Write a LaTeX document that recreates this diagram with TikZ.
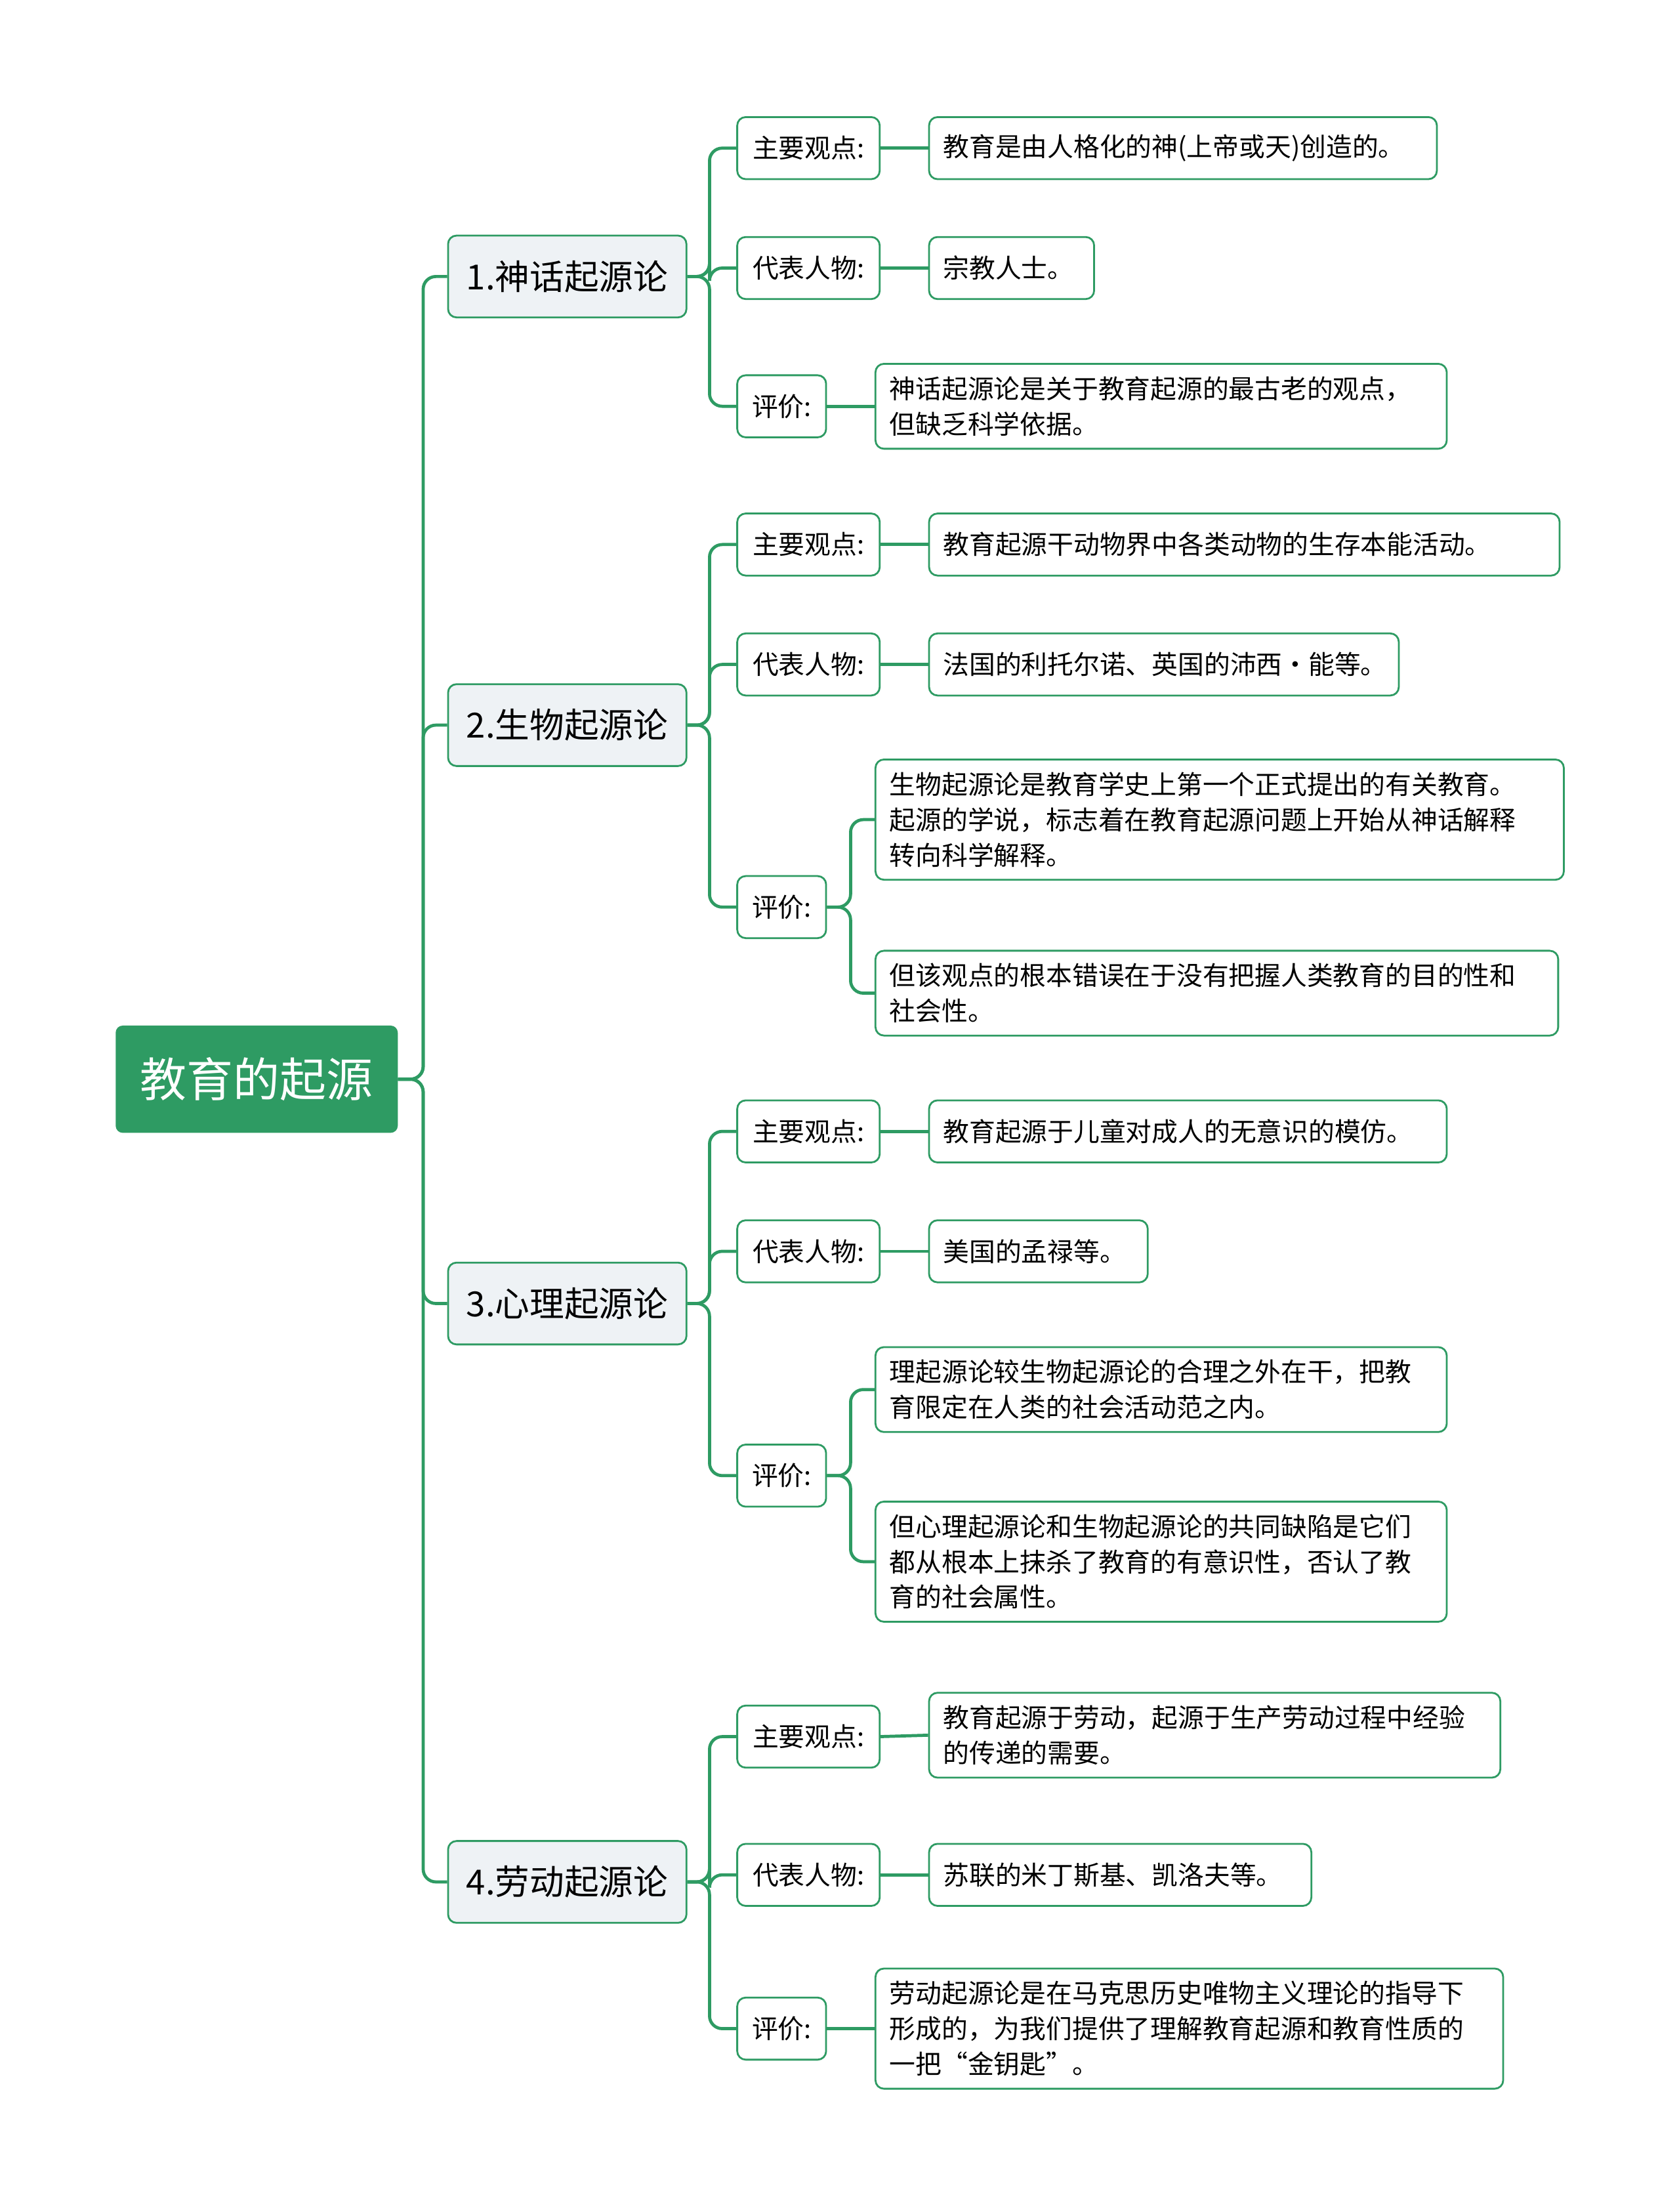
\documentclass[tikz,border=0pt]{standalone}
\usepackage{fontspec}
\setmainfont{Noto Sans CJK SC}
\definecolor{g}{HTML}{2E9B63}
\definecolor{bf}{HTML}{EEF2F5}
\begin{document}
\begin{tikzpicture}[x=1pt,y=-1pt,
 conn/.style={draw=g,line width=2.2pt,rounded corners=9pt},
 rootn/.style={fill=g,rounded corners=5pt,text=white,font=\fontsize{33}{36}\selectfont,minimum width=200pt,minimum height=76pt,inner sep=0pt},
 br/.style={draw=g,fill=bf,line width=1.3pt,rounded corners=6pt,font=\fontsize{24.5}{27}\selectfont,minimum width=169pt,minimum height=58pt,inner sep=0pt,anchor=west},
 lab/.style={draw=g,fill=white,line width=1.3pt,rounded corners=6pt,font=\fontsize{18.5}{21}\selectfont,minimum height=44pt,inner sep=0pt,anchor=west},
 leaf/.style={draw=g,fill=white,line width=1.3pt,rounded corners=6pt,font=\fontsize{18.5}{25}\selectfont,minimum height=44pt,inner xsep=10pt,inner ysep=9pt,anchor=west,align=left}]
\useasboundingbox (0,0) rectangle (1190,1568);
\fill[white] (0,0) rectangle (1190,1568);

\node[rootn] (root) at (182,765) {教育的起源};
\node[br] (b1) at (317,196) {1.神话起源论};
\node[br] (b2) at (317,514) {2.生物起源论};
\node[br] (b3) at (317,924) {3.心理起源论};
\node[br] (b4) at (317,1334) {4.劳动起源论};
\foreach \b in {b1,b2,b3,b4} \draw[conn] (root.east) -- (300,765) |- (\b.west);

% branch 1
\node[lab,minimum width=101pt] (a1) at (522,105) {主要观点:};
\node[lab,minimum width=101pt] (a2) at (522,190) {代表人物:};
\node[lab,minimum width=63pt] (a3) at (522,288) {评价:};
\node[leaf,text width=340pt] (l11) at (658,105) {教育是由人格化的神(上帝或天)创造的。};
\node[leaf,text width=97pt] (l12) at (658,190) {宗教人士。};
\node[leaf,text width=385pt] (l13) at (620,288) {神话起源论是关于教育起源的最古老的观点，\\但缺乏科学依据。};
\foreach \a in {a1,a2,a3} \draw[conn] (b1.east) -- (503,196) |- (\a.west);
\draw[conn] (a1.east) -- (l11.west); \draw[conn] (a2.east) -- (l12.west); \draw[conn] (a3.east) -- (l13.west);

% branch 2
\node[lab,minimum width=101pt] (c1) at (522,386) {主要观点:};
\node[lab,minimum width=101pt] (c2) at (522,471) {代表人物:};
\node[lab,minimum width=63pt] (c3) at (522,643) {评价:};
\node[leaf,text width=427pt] (l21) at (658,386) {教育起源干动物界中各类动物的生存本能活动。};
\node[leaf,text width=313pt] (l22) at (658,471) {法国的利托尔诺、英国的沛西·能等。};
\node[leaf,text width=468pt] (l23) at (620,581) {生物起源论是教育学史上第一个正式提出的有关教育。\\起源的学说，标志着在教育起源问题上开始从神话解释\\转向科学解释。};
\node[leaf,text width=464pt] (l24) at (620,704) {但该观点的根本错误在于没有把握人类教育的目的性和\\社会性。};
\foreach \a in {c1,c2,c3} \draw[conn] (b2.east) -- (503,514) |- (\a.west);
\draw[conn] (c1.east) -- (l21.west); \draw[conn] (c2.east) -- (l22.west);
\foreach \l in {l23,l24} \draw[conn] (c3.east) -- (603,643) |- (\l.west);

% branch 3
\node[lab,minimum width=101pt] (d1) at (522,802) {主要观点:};
\node[lab,minimum width=101pt] (d2) at (522,887) {代表人物:};
\node[lab,minimum width=63pt] (d3) at (522,1046) {评价:};
\node[leaf,text width=347pt] (l31) at (658,802) {教育起源于儿童对成人的无意识的模仿。};
\node[leaf,text width=135pt] (l32) at (658,887) {美国的孟禄等。};
\node[leaf,text width=385pt] (l33) at (620,985) {理起源论较生物起源论的合理之外在干，把教\\育限定在人类的社会活动范之内。};
\node[leaf,text width=385pt] (l34) at (620,1107) {但心理起源论和生物起源论的共同缺陷是它们\\都从根本上抹杀了教育的有意识性，否认了教\\育的社会属性。};
\foreach \a in {d1,d2,d3} \draw[conn] (b3.east) -- (503,924) |- (\a.west);
\draw[conn] (d1.east) -- (l31.west); \draw[conn] (d2.east) -- (l32.west);
\foreach \l in {l33,l34} \draw[conn] (d3.east) -- (603,1046) |- (\l.west);

% branch 4
\node[lab,minimum width=101pt] (e1) at (522,1231) {主要观点:};
\node[lab,minimum width=101pt] (e2) at (522,1329) {代表人物:};
\node[lab,minimum width=63pt] (e3) at (522,1438) {评价:};
\node[leaf,text width=385pt] (l41) at (658,1230) {教育起源于劳动，起源于生产劳动过程中经验\\的传递的需要。};
\node[leaf,text width=251pt] (l42) at (658,1329) {苏联的米丁斯基、凯洛夫等。};
\node[leaf,text width=425pt] (l43) at (620,1438) {劳动起源论是在马克思历史唯物主义理论的指导下\\形成的，为我们提供了理解教育起源和教育性质的\\一把“金钥匙”。};
\foreach \a in {e1,e2,e3} \draw[conn] (b4.east) -- (503,1334) |- (\a.west);
\draw[conn] (e1.east) -- (l41.west); \draw[conn] (e2.east) -- (l42.west); \draw[conn] (e3.east) -- (l43.west);
\end{tikzpicture}
\end{document}
